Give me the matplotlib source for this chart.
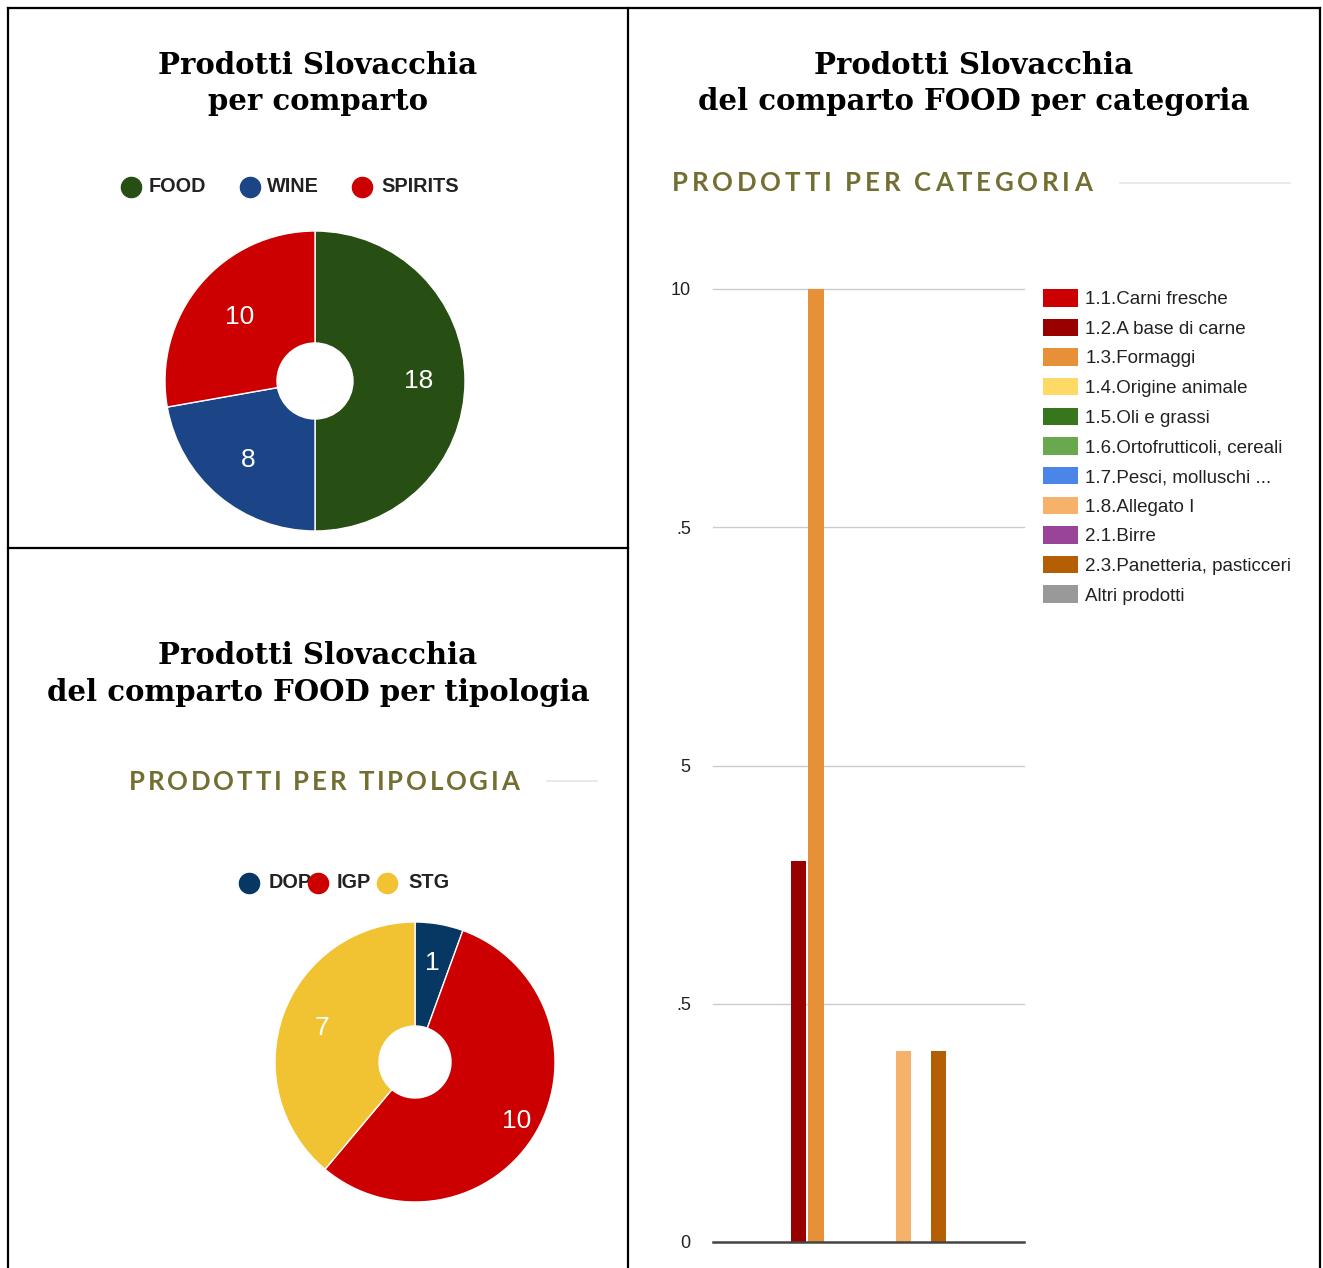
import matplotlib

matplotlib.use("Agg")
import matplotlib.pyplot as plt
import numpy as np
from matplotlib.lines import Line2D
from matplotlib.patches import Patch

# --- data -----------------------------------------------------------------
comparto_labels = ["FOOD", "WINE", "SPIRITS"]
comparto_values = [18, 8, 10]
comparto_colors = ["#274e13", "#1c4587", "#cc0000"]

tipologia_labels = ["DOP", "IGP", "STG"]
tipologia_values = [1, 10, 7]
tipologia_colors = ["#073763", "#cc0000", "#f1c232"]

categorie = ["1.1.Carni fresche", "1.2.A base di carne", "1.3.Formaggi",
             "1.4.Origine animale", "1.5.Oli e grassi", "1.6.Ortofrutticoli, cereali",
             "1.7.Pesci, molluschi ...", "1.8.Allegato I", "2.1.Birre",
             "2.3.Panetteria, pasticceri", "Altri prodotti"]
categorie_values = [0, 4, 10, 0, 0, 0, 0, 2, 0, 2, 0]
categorie_colors = ["#cc0000", "#990000", "#e69138", "#ffd966", "#38761d", "#6aa84f",
                    "#4a86e8", "#f6b26b", "#994499", "#b45f06", "#999999"]
y_ticks = [0, 2.5, 5, 7.5, 10]
y_ticklabels = ["0", ".5", "5", ".5", "10"]   # left part of 7.5 / 2.5 is cut off

W, H = 1323, 1268
fig = plt.figure(figsize=(W / 100, H / 100), dpi=100)
fig.patch.set_facecolor("white")


def fx(x):
    return x / W


def fy(y):
    return 1 - y / H


def px_axes(left, top, right, bottom):
    return fig.add_axes([left / W, 1 - bottom / H, (right - left) / W, (bottom - top) / H])


def line(x0, y0, x1, y1, **kw):
    fig.add_artist(Line2D([fx(x0), fx(x1)], [fy(y0), fy(y1)], transform=fig.transFigure, **kw))


# table borders
for seg in [(8, 8, 1320, 8), (8, 8, 8, 1268), (628, 8, 628, 1268),
            (1320, 8, 1320, 1268), (8, 548, 628, 548)]:
    line(*seg, color="black", lw=1.6, solid_capstyle="projecting")

title_kw = dict(family="DejaVu Serif", weight="bold", fontsize=21, color="black",
                ha="center", va="center")
fig.text(fx(318), fy(66), "Prodotti Slovacchia", **title_kw)
fig.text(fx(318), fy(102), "per comparto", **title_kw)
fig.text(fx(974), fy(66), "Prodotti Slovacchia", **title_kw)
fig.text(fx(974), fy(102), "del comparto FOOD per categoria", **title_kw)
fig.text(fx(318), fy(656), "Prodotti Slovacchia", **title_kw)
fig.text(fx(318), fy(692), "del comparto FOOD per tipologia", **title_kw)


def spaced_text(x, y, s, spacing, **kw):
    renderer = fig.canvas.get_renderer()
    cur = x
    for ch in s:
        t = fig.text(fx(cur), fy(y), ch, ha="left", va="center", **kw)
        w = t.get_window_extent(renderer).width
        cur += w + spacing
    return cur


head_kw = dict(family="Lato", weight="bold", fontsize=18.5, color="#736f32")
spaced_text(672, 183, "PRODOTTI PER CATEGORIA", 3.8, **head_kw)
line(1120, 183, 1290, 183, color="#e6e6e6", lw=1.2)
spaced_text(129, 782, "PRODOTTI PER TIPOLOGIA", 2.8, **head_kw)
line(547, 781, 597, 781, color="#e6e6e6", lw=1.2)


def donut(cx, cy, r, hole, values, colors, dists):
    ax = px_axes(cx - r, cy - r, cx + r, cy + r)
    total = sum(values)
    _, _, autotexts = ax.pie(values, colors=colors, startangle=90, counterclock=False,
                             radius=1, pctdistance=1.0,
                             autopct=lambda p: f"{round(p * total / 100)}",
                             wedgeprops=dict(width=1 - hole / r, edgecolor="white", linewidth=1))
    for t, d in zip(autotexts, dists):
        px_, py_ = t.get_position()
        t.set_position((px_ * d, py_ * d))
        t.set_color("white")
        t.set_fontsize(19)
        t.set_family("Liberation Sans")
    ax.set_xlim(-1, 1)
    ax.set_ylim(-1, 1)
    ax.set_aspect("equal")
    ax.axis("off")
    return ax


donut(315, 381, 150, 38, comparto_values, comparto_colors, [0.69, 0.69, 0.66])
donut(415, 1062, 140, 36, tipologia_values, tipologia_colors, [0.72, 0.84, 0.71])


def dot_legend(y, marker_x, text_x, labels, colors):
    for tx, lab in zip(text_x, labels):
        fig.text(fx(tx), fy(y), lab, ha="left", va="center", family="Liberation Sans",
                 weight="bold", fontsize=14.3, color="#222222", zorder=2)
    for mx, col in zip(marker_x, colors):
        fig.add_artist(Line2D([fx(mx)], [fy(y)], marker="o", markersize=14.5, color=col,
                              linestyle="none", transform=fig.transFigure, zorder=3))


dot_legend(187, [131, 250, 362], [149, 267, 381], comparto_labels, comparto_colors)
dot_legend(883, [249, 318, 387], [269, 337, 408], tipologia_labels, tipologia_colors)

# bar chart
ax = px_axes(713, 289, 1024, 1242)
x = np.arange(len(categorie))
ax.bar(x, categorie_values, width=0.91, color=categorie_colors, linewidth=0, zorder=3)
half = 311 / 17.5 / 2
ax.set_xlim(5 - half, 5 + half)
ax.set_ylim(0, 10)
ax.set_yticks(y_ticks)
ax.set_yticklabels(y_ticklabels, family="Liberation Sans", fontsize=13, color="#222222")
ax.tick_params(axis="y", length=0, pad=16)
ax.set_xticks([])
for yt in y_ticks[1:]:
    ax.axhline(yt, color="#cccccc", lw=1.0, zorder=1, clip_on=False)
ax.axhline(0, color="#444444", lw=1.8, zorder=4, clip_on=False)
for s in ax.spines.values():
    s.set_visible(False)

handles = [Patch(facecolor=c, edgecolor="none") for c in categorie_colors]
fig.legend(handles, categorie, loc="upper left", bbox_to_anchor=(fx(1043), fy(289)),
           frameon=False, borderpad=0, borderaxespad=0, handlelength=1.88,
           handleheight=1.06, handletextpad=0.38, labelspacing=0.56,
           prop=dict(family="Liberation Sans", size=13.5), labelcolor="#222222")

fig.savefig("out.png", dpi=100)
